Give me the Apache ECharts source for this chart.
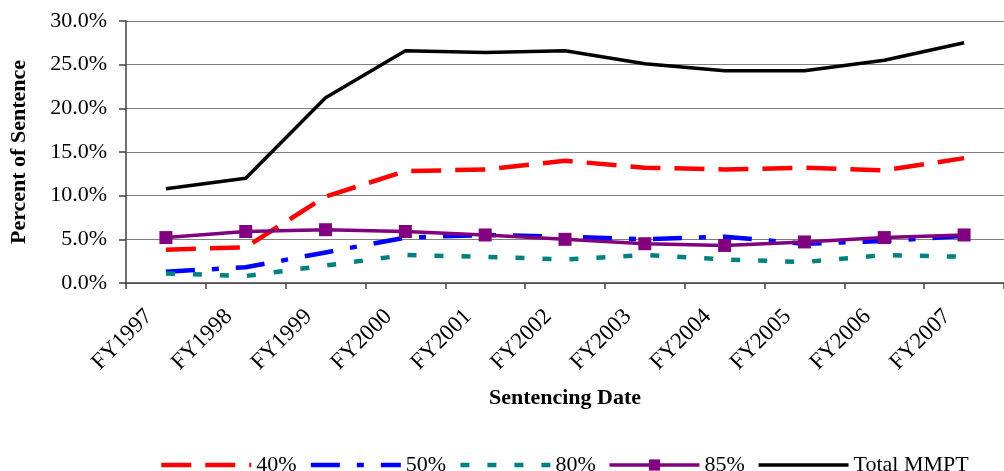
<!DOCTYPE html>
<html>
<head>
<meta charset="utf-8">
<script src="https://cdn.jsdelivr.net/npm/echarts@6/dist/echarts.min.js"></script>
<style>html,body{margin:0;padding:0;background:#fff}#c{width:1004px;height:471px}</style>
</head>
<body>
<div id="c"></div>
<script>
const categories = ['FY1997','FY1998','FY1999','FY2000','FY2001','FY2002','FY2003','FY2004','FY2005','FY2006','FY2007'];
const p40 = [3.8, 4.1, 9.9, 12.8, 13.0, 14.0, 13.2, 13.0, 13.2, 12.9, 14.3];
const p50 = [1.3, 1.8, 3.5, 5.2, 5.5, 5.3, 5.0, 5.3, 4.5, 4.8, 5.4];
const p80 = [1.1, 0.8, 2.0, 3.2, 3.0, 2.7, 3.2, 2.7, 2.4, 3.2, 3.0];
const p85 = [5.2, 5.9, 6.1, 5.9, 5.5, 5.0, 4.5, 4.3, 4.7, 5.2, 5.5];
const totalMMPT = [10.8, 12.0, 21.2, 26.6, 26.4, 26.6, 25.1, 24.3, 24.3, 25.5, 27.5];
const yTicks = [0, 5, 10, 15, 20, 25, 30];
const seriesNames = ['40%', '50%', '80%', '85%', 'Total MMPT'];

const FONT = '"Liberation Serif", "Times New Roman", serif';
const chart = echarts.init(document.getElementById('c'), null, {renderer: 'canvas'});
function ln(name, data, color, width, type, extra) {
  return Object.assign({
    name: name, type: 'line', data: data, symbol: 'none',
    animation: false,
    lineStyle: {color: color, width: width, type: type, cap: 'butt'},
    itemStyle: {color: color}
  }, extra || {});
}
const legendWidths = [4.5, 4.5, 4.5, 3.5, 3.5];
const legendData = seriesNames.map((n, i) => n === '85%'
  ? {name: n, lineStyle: {width: legendWidths[i]}}
  : {name: n, itemStyle: {opacity: 0}, lineStyle: {width: legendWidths[i]}});
chart.setOption({
  animation: false,
  textStyle: {fontFamily: FONT, color: '#000'},
  grid: {left: 126, top: 21, width: 888, height: 262, containLabel: false},
  xAxis: {
    type: 'category', data: categories, boundaryGap: true,
    axisLine: {lineStyle: {color: '#404040', width: 1.5}},
    axisTick: {show: true, length: 6, lineStyle: {color: '#404040', width: 1.5}},
    axisLabel: {rotate: 45, fontSize: 23, fontFamily: FONT, color: '#000', margin: 13, padding: [0, 24, 0, 0]},
    name: 'Sentencing Date', nameLocation: 'middle', nameGap: 104,
    nameTextStyle: {fontSize: 22, fontWeight: 'bold', fontFamily: FONT, color: '#000'}
  },
  yAxis: {
    type: 'value', min: yTicks[0], max: yTicks[yTicks.length - 1], interval: 5,
    axisLine: {show: true, lineStyle: {color: '#404040', width: 1.5}},
    axisTick: {show: true, length: 7, lineStyle: {color: '#404040', width: 1.5}},
    axisLabel: {fontSize: 22, fontFamily: FONT, color: '#000', margin: 19,
      formatter: v => v.toFixed(1) + '%'},
    splitLine: {show: true, lineStyle: {color: '#808080', width: 1.2}},
    name: 'Percent of Sentence', nameLocation: 'middle', nameGap: 96, nameRotate: 90,
    nameTextStyle: {fontSize: 22, fontWeight: 'bold', fontFamily: FONT, color: '#000'}
  },
  legend: {
    data: legendData, left: 154, top: 449, itemWidth: 90, itemHeight: 14, itemGap: 12,
    textStyle: {fontSize: 22, fontFamily: FONT, color: '#000'}
  },
  series: [
    ln(seriesNames[0], p40, '#FF0000', 4.5, [30, 14]),
    ln(seriesNames[1], p50, '#0000FF', 4.5, [29, 17, 7, 17]),
    ln(seriesNames[2], p80, '#008080', 4.5, [9, 18]),
    ln(seriesNames[3], p85, '#800080', 3.5, 'solid', {symbol: 'rect', symbolSize: 13, showSymbol: true}),
    ln(seriesNames[4], totalMMPT, '#000000', 3.5, 'solid')
  ]
});
</script>
</body>
</html>
